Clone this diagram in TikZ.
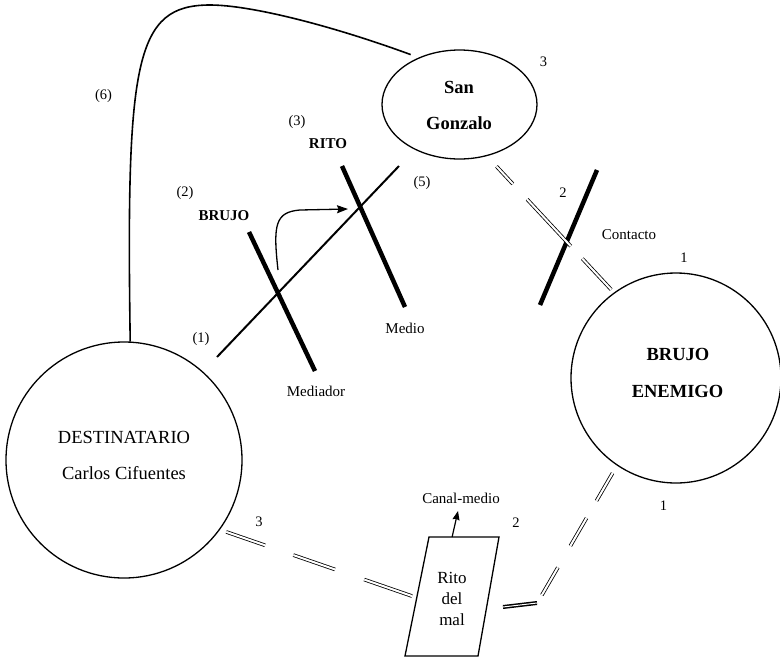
\documentclass[tikz,border=0pt]{standalone}
\usepackage{fontspec}
\setmainfont{Liberation Serif}
\usetikzlibrary{arrows.meta,shapes.geometric,calc}
\begin{document}
\begin{tikzpicture}[x=1pt,y=-1pt,
  big/.style={font=\fontsize{18.5}{20}\selectfont, inner sep=0pt, anchor=base},
  bigb/.style={font=\fontsize{18.5}{20}\selectfont\bfseries, inner sep=0pt, anchor=base},
  ritotxt/.style={font=\fontsize{17}{19}\selectfont, inner sep=0pt, anchor=base},
  midt/.style={font=\fontsize{15}{17}\selectfont, inner sep=0pt, anchor=base},
  midb/.style={font=\fontsize{15}{17}\selectfont\bfseries, inner sep=0pt, anchor=base},
  num/.style={font=\fontsize{14.5}{16}\selectfont, inner sep=0pt, anchor=base},
  circ/.style={circle, draw, line width=1.3pt, inner sep=0pt},
  bar/.style={line width=4.5pt},
  dbl/.style={double, double distance=2pt, line width=0.8pt},
  tipa/.style={-{Stealth[length=11pt,width=8pt,inset=1.5pt]}, line width=1.3pt}]
\useasboundingbox (0,0) rectangle (780,657);

% main shapes
\node[circ, minimum size=236pt] (dest) at (124,460) {};
\node[circ, minimum size=210pt] (be) at (676,378) {};
\node[ellipse, draw, line width=1.3pt, minimum width=155pt, minimum height=109pt, inner sep=0pt] (sg) at (459.5,104.5) {};

\node[big] (destA) at (124,443) {DESTINATARIO};
\node[big] (destB) at (124,479) {Carlos Cifuentes};
\node[bigb] (beA) at (678,360) {BRUJO};
\node[bigb] (beB) at (677.5,397) {ENEMIGO};
\node[bigb] (sgA) at (459,93) {San};
\node[bigb] (sgB) at (459,129) {Gonzalo};

% Rito del mal parallelogram
\coordinate (rA) at (429,537);
\coordinate (rB) at (499,537);
\coordinate (rC) at (478,656);
\coordinate (rD) at (405,656);
\draw[line width=1.3pt] (rA) -- (rB) -- (rC) -- (rD) -- cycle;
\node[ritotxt] (rito1) at (452,583) {Rito};
\node[ritotxt] (rito2) at (452,604) {del};
\node[ritotxt] (rito3) at (452,625) {mal};
\coordinate (rl) at ($(rA)!0.51!(rD)$);
\coordinate (rt) at ($(rA)!0.33!(rB)$);
\coordinate (canaltip) at (458,511);
\coordinate (rr) at (503,607);
\coordinate (corner) at (539,600);
\coordinate (cornerb) at (537,603);

\draw[line width=1.2pt, -{Stealth[length=9pt,width=7pt,inset=1pt]}] (rt) -- (canaltip);
\node[midt] (canal) at (461,503) {Canal-medio};

% curve (6)
\draw[line width=1.6pt, shorten >=8.5pt] (dest.87) .. controls (126,60) and (135,5) .. (210,5)
  .. controls (250,5) and (330,25) .. (sg.131);

% thin line (1)-(5)
\coordinate (l1) at (217,357);
\coordinate (l5) at (399,166);
\draw[line width=2pt] (l1) -- (l5);

% thick bars
\coordinate (b1) at (249,232); \coordinate (b2) at (315,371);
\coordinate (r1) at (342,166); \coordinate (r2) at (405,307);
\coordinate (c1) at (597,170); \coordinate (c2) at (540,305);
\draw[bar] (b1) -- (b2);
\draw[bar] (r1) -- (r2);
\draw[bar] (c1) -- (c2);

% curved arrow
\coordinate (ca0) at (278,270);
\coordinate (ca1) at (300,210);
\coordinate (ca2) at (348,209);
\draw[tipa] (ca0) .. controls (273,225) and (275,212) .. (ca1) -- (ca2);

% double dashed connectors
\draw[dbl, shorten <=14pt, shorten >=4pt, dash pattern=on 24pt off 21pt on 64pt off 17pt on 60pt]
  (sg.-62) -- (be.126);
\draw[dbl, shorten <=6.6pt, shorten >=5pt, dash pattern=on 41pt off 30pt on 44pt off 31pt on 60pt]
  (dest.-36) -- (rl);
\draw[dbl, shorten <=8.7pt, dash pattern=on 32pt off 20pt on 32pt off 25pt on 32pt off 40pt]
  (be.-124) -- (corner);
\draw[double, double distance=1pt, line width=1.5pt] (cornerb) -- (rr);

% labels
\node[midb] (lbrujo) at (224,220) {BRUJO};
\node[midb] (lrito) at (328,148) {RITO};
\node[midt] (lmedio) at (405,333) {Medio};
\node[midt] (lmediador) at (316,396) {Mediador};
\node[midt] (lcontacto) at (629,239) {Contacto};

\node[num] (n6) at (103.5,99) {(6)};
\node[num] (n3p) at (297,125) {(3)};
\node[num] (n2p) at (185,196) {(2)};
\node[num] (n5p) at (422,186) {(5)};
\node[num] (n1p) at (201,342) {(1)};
\node[num] (d3a) at (543.5,66) {3};
\node[num] (d2a) at (563,197) {2};
\node[num] (d1a) at (684,262) {1};
\node[num] (d1b) at (663.5,510) {1};
\node[num] (d2b) at (516,527) {2};
\node[num] (d3b) at (259,526) {3};
\end{tikzpicture}
\end{document}
